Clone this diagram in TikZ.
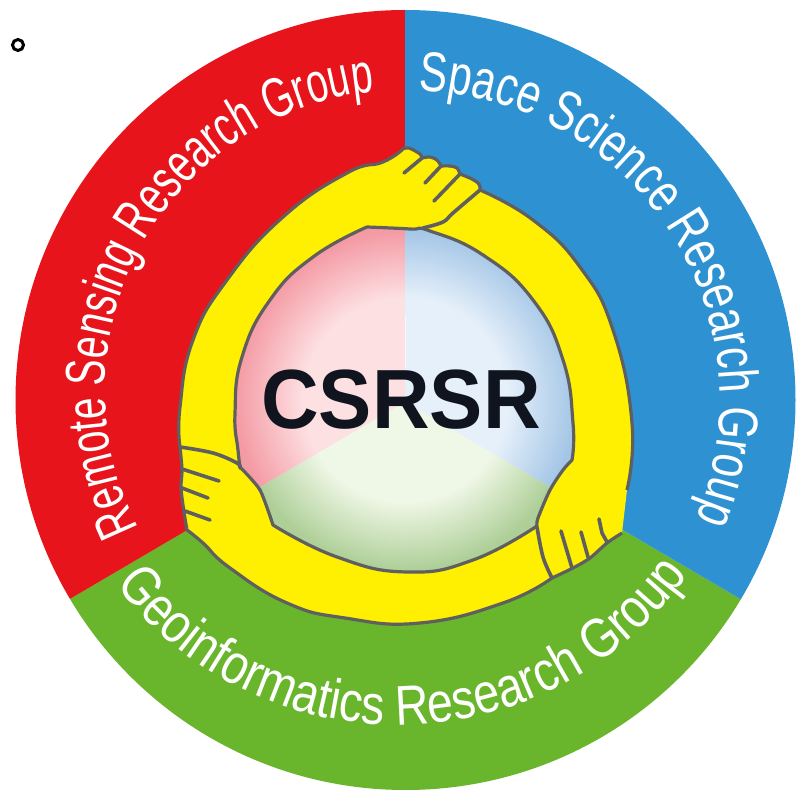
\documentclass[tikz,border=0pt]{standalone}
\usepackage{fontspec}
\usetikzlibrary{decorations.text}
\newfontfamily\remfam[FakeStretch=0.695]{Liberation Sans}
\newfontfamily\spcfam[FakeStretch=0.75]{Liberation Sans}
\newfontfamily\geofam[FakeStretch=0.83]{Liberation Sans}
\newfontfamily\logofam[FakeStretch=0.95]{Liberation Sans Bold}
\newcommand{\rem}{\fontsize{56}{60}\selectfont\remfam}
\newcommand{\spc}{\fontsize{56}{60}\selectfont\spcfam}
\newcommand{\geo}{\fontsize{56}{60}\selectfont\geofam}
\definecolor{sred}{HTML}{E8141C}
\definecolor{sblue}{HTML}{2E92D2}
\definecolor{sgreen}{HTML}{69B52C}
\definecolor{syellow}{HTML}{FFEF00}
\definecolor{sgray}{HTML}{5F5F5F}
\definecolor{sink}{HTML}{10141F}
\definecolor{redA}{HTML}{FDE0E2}
\definecolor{redB}{HTML}{F49AA4}
\definecolor{blueA}{HTML}{E6F0FA}
\definecolor{blueB}{HTML}{A4C6E6}
\definecolor{greenA}{HTML}{EFF7E6}
\definecolor{greenB}{HTML}{AECF98}
\pgfdeclareradialshading{redsh}{\pgfpoint{0bp}{0bp}}{color(0bp)=(redA); color(7.5bp)=(redA); color(12.5bp)=(redB); color(50bp)=(redB)}
\pgfdeclareradialshading{bluesh}{\pgfpoint{0bp}{0bp}}{color(0bp)=(blueA); color(7.5bp)=(blueA); color(12.5bp)=(blueB); color(50bp)=(blueB)}
\pgfdeclareradialshading{greensh}{\pgfpoint{0bp}{0bp}}{color(0bp)=(greenA); color(7.5bp)=(greenA); color(12.5bp)=(greenB); color(50bp)=(greenB)}
\tikzset{
  handline/.style={draw=sgray,line width=3.6pt,line cap=round,line join=round},
  ringline/.style={draw=sgray,line width=3.2pt,line join=round},
}
\newcommand{\disk}{plot[smooth,tension=.8] coordinates {(367,227)(410,229)(430,231)(483,255)(533,300)(563,360)(573,423)(572,460)}
  -- plot[smooth,tension=.5] coordinates {(572,460)(563,470)(550,490)(538,518)(537,526)}
  -- plot[smooth,tension=.8] coordinates {(537,526)(473,560)(407,572)(337,557)(273,525)}
  -- plot[smooth,tension=.4] coordinates {(273,525)(260,490)(240,467)}
  -- plot[smooth,tension=.8] coordinates {(240,467)(238,450)(235,413)(242,357)(270,300)(313,257)(367,227)} -- cycle}
\begin{document}
\begin{tikzpicture}[x=1pt,y=-1pt]
\useasboundingbox (0,0) rectangle (796,791);
\fill[white] (0,0) rectangle (796,791);
% outer sectors
\begin{scope}
  \clip (405.5,400) circle[radius=390pt];
  \fill[sgreen] (405,402) -- (-95,695.75) -- (-95,800) -- (905,800) -- (905,695.75) -- cycle;
  \fill[sred] (405.3,402) -- (405.3,0) -- (-95,0) -- (-95,695.75) -- cycle;
  \fill[sblue] (405,402) -- (405,0) -- (905,0) -- (905,695.75) -- cycle;
\end{scope}
% group names
\path[decorate,decoration={text along path,text color=white,text align=center,text={|\rem|Remote Sensing Research Group}}]
  plot[domain=251.6:51.6,samples=121] ({405+300*cos(\x)},{390-300*sin(\x)});
\path[decorate,decoration={text along path,text color=white,text align=center,text={|\spc|Space Science Research Group}}]
  plot[domain=133:-67,samples=121] ({411+309*cos(\x)},{400-309*sin(\x)});
\path[decorate,decoration={text along path,text color=white,text align=center,text={|\geo|Geoinformatics Research Group}}]
  plot[domain=191:351,samples=121] ({398+355*cos(\x)},{370-355*sin(\x)});
% yellow band with hands: the outline stays open along the wrist on the right
\path[fill=syellow,ringline]
  plot[smooth,tension=.5] coordinates {(622,533)(607,543)(590,558)(573,568)(552,578)}
  -- plot[smooth,tension=.8] coordinates {(552,578)(503,603)(420,623)(345,618)(287,603)(230,568)(203,543)(187,530)}
  -- plot[smooth,tension=.5] coordinates {(187,530)(184,512)(181,488)(182,470)(180,447)}
  -- plot[smooth,tension=.8] coordinates {(180,447)(180,407)(193,340)(227,280)(283,217)(347,173)(383,162)(403,149)}
  -- plot[smooth,tension=.6] coordinates {(403,149)(409,148)(420,154)(422,158)}
  -- plot[smooth,tension=.6] coordinates {(422,158)(430,157)(437,160)(441,166)}
  -- plot[smooth,tension=.6] coordinates {(441,166)(450,166)(457,168)(460,174)}
  -- plot[smooth,tension=.6] coordinates {(460,174)(472,179)(479,184)(480,189)}
  -- plot[smooth,tension=.8] coordinates {(480,190)(533,220)(580,267)(613,330)(632,423)(627,490)};
% inner disk
\fill[greenA] \disk;
\begin{scope}
  \clip \disk;
  \begin{scope}
    \clip (405,402) -- (405,0) -- (-95,0) -- (-95,695.75) -- cycle;
    \shade[shading=redsh] (65,60) rectangle (745,740);
  \end{scope}
  \begin{scope}
    \clip (405,402) -- (405,0) -- (905,0) -- (905,695.75) -- cycle;
    \shade[shading=bluesh] (65,60) rectangle (745,740);
  \end{scope}
  \begin{scope}
    \clip (405,402) -- (-95,695.75) -- (-95,800) -- (905,800) -- (905,695.75) -- cycle;
    \shade[shading=greensh] (65,60) rectangle (745,740);
  \end{scope}
  \draw[white,opacity=.6,line width=.8pt] (405,315) -- (405,368);
\end{scope}
\path[ringline] \disk;
% top hand
\draw[handline] plot[smooth,tension=.6] coordinates {(480,190)(453,213)(443,222)(423,228)};
\draw[handline] (422,158) -- (404,173);
\draw[handline] (441,166) -- (425,183);
\draw[handline] (460,174) -- (434,201);
% left hand
\draw[handline] plot[smooth,tension=.6] coordinates {(180,447)(213,453)(237,463)(240,468)};
\draw[handline] (182,469) -- (219,481);
\draw[handline] (182,488) -- (208,498);
\draw[handline] (185,511) -- (210,520);
% right hand
\draw[handline] plot[smooth,tension=.6] coordinates {(537,527)(543,557)(552,578)};
\draw[handline] (561,531) -- (572,568);
\draw[handline] (581,532) -- (588,557);
\draw[handline] (599,519) -- (602,533) -- (607,542);
% title and mark
\node[font=\fontsize{84}{90}\selectfont\logofam,text=sink,inner sep=0pt] (title) at (401,400) {CSRSR};
\node[circle,draw=black,line width=3pt,minimum size=11pt,inner sep=0pt] (mark) at (18,45) {};
\end{tikzpicture}
\end{document}
